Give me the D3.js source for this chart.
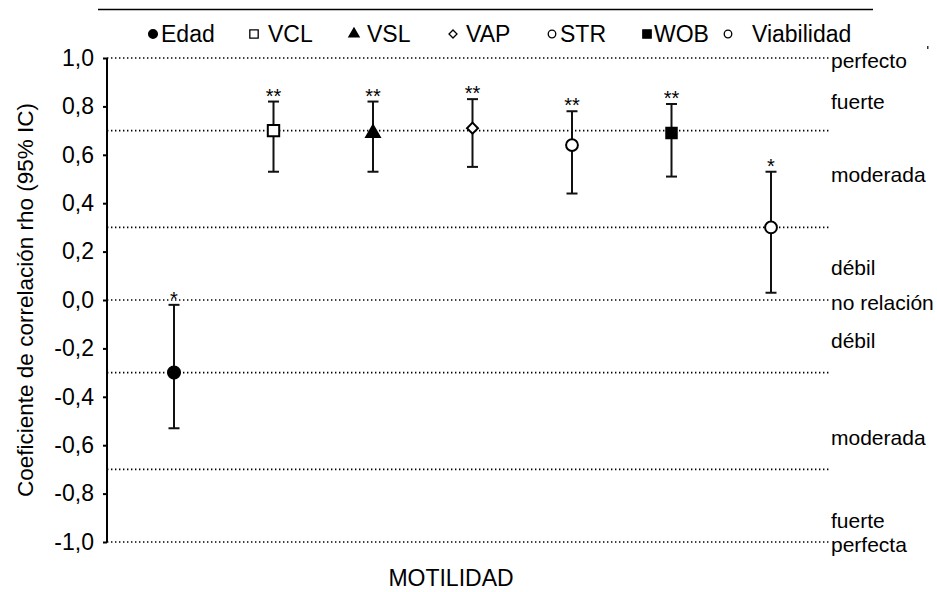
<!DOCTYPE html>
<html>
<head>
<meta charset="utf-8">
<script src="https://cdn.jsdelivr.net/npm/d3@7"></script>
<style>
  body { margin: 0; background: #fff; }
  svg { display: block; font-family: "Liberation Sans", Arial, Helvetica, sans-serif; }
</style>
</head>
<body>
<svg id="chart" width="937" height="592"></svg>
<script>
// data
var categories = ["Edad", "VCL", "VSL", "VAP", "STR", "WOB", "Viabilidad"];
var rho    = [-0.30, 0.70, 0.69, 0.71, 0.64, 0.69, 0.30];
var ciLow  = [-0.53, 0.53, 0.53, 0.55, 0.44, 0.51, 0.03];
var ciHigh = [-0.02, 0.82, 0.82, 0.83, 0.78, 0.81, 0.53];
var signif = ["*", "**", "**", "**", "**", "**", "*"];
var yTicks = [-1, -0.8, -0.6, -0.4, -0.2, 0, 0.2, 0.4, 0.6, 0.8, 1];
var refLines = [1, 0.7, 0.3, 0, -0.3, -0.7, -1];
var strengthLabels = ["perfecto", "fuerte", "moderada", "débil", "no relación", "débil", "moderada", "fuerte", "perfecta"];
var strengthPos    = [1, 0.83, 0.53, 0.145, 0, -0.155, -0.555, -0.9, -1];

// marker style per category
var markers = {
  "Edad":       {shape: d3.symbolCircle,   fill: "#000", size: 115, rot: 0},
  "VCL":        {shape: d3.symbolSquare,   fill: "#fff", size: 130, rot: 0},
  "VSL":        {shape: d3.symbolTriangle, fill: "#000", size: 80,  rot: 0},
  "VAP":        {shape: d3.symbolSquare,   fill: "#fff", size: 60,  rot: 45},
  "STR":        {shape: d3.symbolCircle,   fill: "#fff", size: 110, rot: 0},
  "WOB":        {shape: d3.symbolSquare,   fill: "#000", size: 110, rot: 0},
  "Viabilidad": {shape: d3.symbolCircle,   fill: "#fff", size: 110, rot: 0}
};

var data = categories.map(function(c, i) {
  return {cat: c, rho: rho[i], lo: ciLow[i], hi: ciHigh[i], sig: signif[i]};
});

var svg = d3.select("#chart");
var plotLeft = 107, plotRight = 830, plotTop = 58, plotBottom = 542;

var y = d3.scaleLinear().domain([-1, 1]).range([plotBottom, plotTop]);
var x = d3.scalePoint().domain(categories).range([plotLeft + 67, plotRight - 59]);

// top rule
svg.append("line")
  .attr("x1", 98).attr("x2", 873).attr("y1", 9.5).attr("y2", 9.5)
  .style("stroke", "#000").style("stroke-width", 1.5);

// small stray mark top right
svg.append("rect").attr("x", 927).attr("y", 46).attr("width", 1.5).attr("height", 3).style("fill", "#333");

// legend
var legendX = [153, 254, 354, 453, 552, 647, 728];
var legendTextX = [161, 268, 367, 466, 560, 654, 752];
var legendSizes = {"Edad": 60, "VCL": 70, "VSL": 45, "VAP": 32, "STR": 45, "WOB": 70, "Viabilidad": 45};
var legend = svg.append("g").attr("class", "legend");
categories.forEach(function(c, i) {
  var m = markers[c];
  legend.append("path")
    .attr("d", d3.symbol().type(m.shape).size(legendSizes[c])())
    .attr("transform", "translate(" + legendX[i] + ",34) rotate(" + m.rot + ")")
    .style("fill", m.fill)
    .style("stroke", "#000")
    .style("stroke-width", 1.3);
  legend.append("text")
    .attr("x", legendTextX[i]).attr("y", 34)
    .attr("dy", "0.35em")
    .style("font-size", "23px")
    .text(c);
});

// dotted reference lines
svg.selectAll(".ref")
  .data(refLines)
  .enter().append("line")
  .attr("class", "ref")
  .attr("x1", plotLeft).attr("x2", plotRight)
  .attr("y1", function(d) { return y(d); })
  .attr("y2", function(d) { return y(d); })
  .style("stroke", "#000")
  .style("stroke-width", 1.6)
  .style("stroke-dasharray", "1.4,2.6");

// strength labels on the right
svg.selectAll(".strength")
  .data(strengthLabels)
  .enter().append("text")
  .attr("class", "strength")
  .attr("x", plotRight + 1)
  .attr("y", function(d, i) { return y(strengthPos[i]) + 3; })
  .attr("dy", "0.35em")
  .style("font-size", "21px")
  .text(function(d) { return d; });

// y axis
var yAxis = d3.axisLeft(y)
  .tickValues(yTicks)
  .tickSize(4)
  .tickPadding(9)
  .tickFormat(function(d) { return d3.format(".1f")(d).replace(".", ",").replace("−", "-"); });

var gy = svg.append("g")
  .attr("transform", "translate(" + plotLeft + ",0)")
  .call(yAxis);
gy.select(".domain").attr("d", "M0," + plotTop + "V" + plotBottom).style("stroke-width", 2);
gy.selectAll(".tick line").style("stroke-width", 2);
gy.selectAll(".tick text")
  .style("font-size", "23px")
  .style("font-family", "'Liberation Sans', Arial, sans-serif")
  .style("fill", "#000");

// axis titles
svg.append("text")
  .attr("transform", "translate(25," + ((plotTop + plotBottom) / 2) + ") rotate(-90)")
  .attr("text-anchor", "middle")
  .attr("dy", "0.35em")
  .style("font-size", "22.5px")
  .text("Coeficiente de correlación rho (95% IC)");

svg.append("text")
  .attr("x", 451).attr("y", 578)
  .attr("text-anchor", "middle")
  .attr("dy", "0.35em")
  .style("font-size", "23px")
  .text("MOTILIDAD");

// error bars
var bars = svg.selectAll(".err")
  .data(data)
  .enter().append("g")
  .attr("class", "err")
  .attr("transform", function(d) { return "translate(" + x(d.cat) + ",0)"; });

bars.append("line")
  .attr("x1", 0).attr("x2", 0)
  .attr("y1", function(d) { return y(d.hi); })
  .attr("y2", function(d) { return y(d.lo); })
  .style("stroke", "#111").style("stroke-width", 2);

bars.selectAll(".cap")
  .data(function(d) { return [d.hi, d.lo]; })
  .enter().append("line")
  .attr("class", "cap")
  .attr("x1", -5.5).attr("x2", 5.5)
  .attr("y1", function(v) { return y(v); })
  .attr("y2", function(v) { return y(v); })
  .style("stroke", "#111").style("stroke-width", 2);

bars.append("path")
  .attr("d", function(d) { return d3.symbol().type(markers[d.cat].shape).size(markers[d.cat].size)(); })
  .attr("transform", function(d) { return "translate(0," + y(d.rho) + ") rotate(" + markers[d.cat].rot + ")"; })
  .style("fill", function(d) { return markers[d.cat].fill; })
  .style("stroke", "#000")
  .style("stroke-width", 2);

bars.append("text")
  .attr("x", 0)
  .attr("y", function(d) { return y(d.hi) + 1; })
  .attr("text-anchor", "middle")
  .style("font-size", "20px")
  .text(function(d) { return d.sig; });
</script>
</body>
</html>
